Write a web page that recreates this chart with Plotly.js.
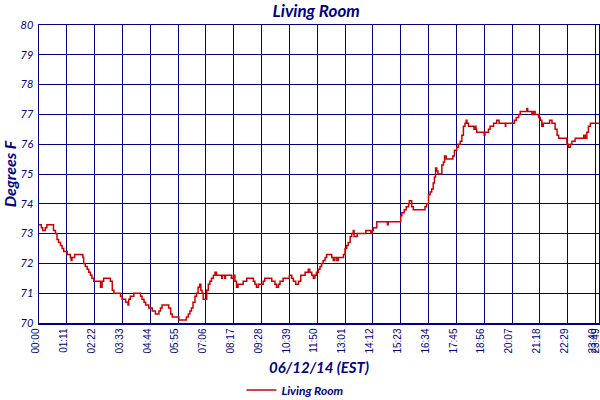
<!DOCTYPE html>
<html>
<head>
<meta charset="utf-8">
<script src="https://cdn.plot.ly/plotly-3.0.1.min.js"></script>
<style>html,body{margin:0;padding:0;background:#fff;}#chart{width:600px;height:400px;}</style>
</head>
<body>
<div id="chart"></div>
<script>
// minutes since midnight
var minutes = [0,6,9.5,16,20,37,42,46,50,55,59,63,72,80,82,84,91,112,114,118,123,127,131,135,140,157,161,165,182,187,191,208,212,221,227,229,233,242,259,263,268,272,280,289,297,306,310,314,331,336,340,
357,376,381,385,389,393,398,402,406,410,413,416,419,428,432,436,440,445,449,453,466,468,474,476,491,496,500,504,508,521,530,547,551,555,560,572,576,594,602,606,611,615,623,639,645,649,655,662,668,679,687,691,696,700,704,708,713,717,721,725,730,734,747,751,755,760,764,777,781,785,789,794,798,802,804,809,812,834,847,851,853,862,889,891,923,926,932,937,943,945,951,955,985,989,994,998,1002,1006,1009,1012,1015,1018,1028,1032,1035,1039,1056,1060,1066,1070,1075,1079,1083,1087,1090,1092,1096,1110,1113,1115,1117,1136,1138,1147,1151,1160,1168,1174,1190,1191,1213,1218,1224,1228,1245,1247,1258,1262,1266,1270,1275,1279,1283,1287,1303,1309,1317,1322,1326,1347,1351,1356,1360,1368,1390,1394,1398,1402,1407,1429];
var temps = [73.3,73.2,73.1,73.2,73.3,73.1,73.0,72.8,72.7,72.6,72.5,72.4,72.3,72.2,72.1,72.2,72.3,72.2,72.0,71.9,71.8,71.7,71.6,71.5,71.4,71.2,71.4,71.5,71.4,71.1,71.0,70.9,70.8,70.7,70.6,70.8,70.9,71.0,70.9,70.8,70.7,70.6,70.5,70.4,70.3,70.4,70.5,70.6,70.5,70.3,70.2,
70.1,70.2,70.3,70.4,70.5,70.7,70.9,71.0,71.2,71.3,71.1,71.0,70.8,71.1,71.3,71.4,71.5,71.6,71.7,71.6,71.5,71.6,71.5,71.6,71.5,71.6,71.4,71.2,71.3,71.4,71.5,71.4,71.3,71.2,71.3,71.4,71.5,71.4,71.3,71.2,71.3,71.4,71.5,71.6,71.5,71.4,71.3,71.4,71.6,71.7,71.8,71.7,71.6,71.5,71.6,71.7,71.8,71.9,72.0,72.1,72.2,72.3,72.2,72.1,72.2,72.1,72.2,72.3,72.5,72.6,72.7,72.9,73.0,73.1,72.9,72.9,73.0,73.1,73.0,73.1,73.2,73.4,73.3,73.4,73.6,73.7,73.8,73.9,74.0,74.1,73.9,73.8,73.9,74.0,74.3,74.4,74.5,74.7,74.9,75.2,75.1,75.0,75.3,75.4,75.6,75.5,75.6,75.8,75.9,76.0,76.1,76.3,76.6,76.7,76.8,76.7,76.6,76.5,76.6,76.5,76.4,76.3,76.4,76.5,76.6,76.7,76.8,76.7,76.6,76.7,76.8,76.9,77.0,77.1,77.2,77.1,77.0,77.1,77.0,77.0,76.9,76.8,76.6,76.7,76.8,76.7,76.5,76.3,76.2,76.0,75.9,76.0,76.1,76.2,76.3,76.2,76.4,76.6,76.7,76.7];

var tickMinutes = [0,71,142,213,284,355,426,497,568,639,710,781,852,923,994,1065,1136,1207,1278,1349,1420,1429];
var tickLabels = ["00:00","01:11","02:22","03:33","04:44","05:55","07:06","08:17","09:28","10:39","11:50","13:01","14:12","15:23","16:34","17:45","18:56","20:07","21:18","22:29","23:40","23:49"];
var seriesName = "Living Room";

var navy = "#000080";
var trace = {
  x: minutes, y: temps, type: "scatter", mode: "lines", name: "<b><i>" + seriesName + "</i></b>",
  line: {color: "#cc0000", width: 1.5, shape: "hv"}
};
var layout = {
  width: 600, height: 400,
  margin: {l: 39, r: 1, t: 25, b: 77, autoexpand: false},
  paper_bgcolor: "#fff", plot_bgcolor: "#fff",
  title: {text: "<b><i>Living Room</i></b>", font: {family: "Lato", size: 17, color: navy}, x: 0.527, xanchor: "center", y: 0.972, yanchor: "middle"},
  xaxis: {
    range: [0, 1429], tickmode: "array", tickvals: tickMinutes, ticktext: tickLabels,
    tickangle: -90, tickfont: {family: "Liberation Sans", size: 10, color: navy},
    ticklabeloverflow: "allow", ticklabelshift: -3,
    showgrid: true, gridcolor: navy, gridwidth: 1, zeroline: false,
    showline: true, linecolor: navy, linewidth: 1.5, mirror: true, ticks: "",
    title: {text: "<b><i>06/12/14 (EST)</i></b>", font: {family: "Lato", size: 15, color: navy}, standoff: 11}
  },
  yaxis: {
    range: [70, 80], dtick: 1, tickfont: {family: "Lato", size: 11, color: navy, style: "italic"},
    showgrid: true, gridcolor: navy, gridwidth: 1, zeroline: false,
    showline: true, linecolor: navy, linewidth: 1.5, mirror: true, ticks: "",
    ticklabelstandoff: 2,
    title: {text: "<b><i>Degrees F</i></b>", font: {family: "Lato", size: 16, color: navy}, standoff: 4}
  },
  showlegend: true,
  legend: {orientation: "h", x: 0.457, xanchor: "center", yref: "container", y: 0.025, yanchor: "middle",
    font: {family: "Lato", size: 12, color: navy}},
  font: {color: navy}
};
Plotly.newPlot("chart", [trace], layout, {staticPlot: true});
</script>
</body>
</html>
